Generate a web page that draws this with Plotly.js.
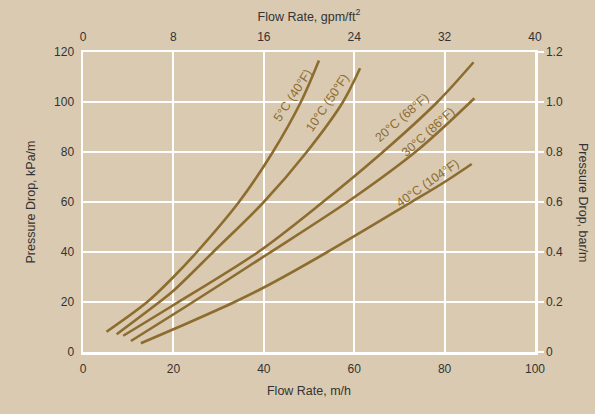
<!DOCTYPE html>
<html>
<head>
<meta charset="utf-8">
<script src="https://cdn.plot.ly/plotly-3.0.1.min.js"></script>
<style>html,body{margin:0;padding:0;background:#dacab1;}#chart{width:595px;height:414px;}</style>
</head>
<body>
<div id="chart"></div>
<script>
// Flow rate (m/h) and pressure drop (kPa/m)
const x5C  = [5.2, 14.2, 20, 25.2, 34.5, 42, 48.2, 52.2];
const y5C  = [8.1, 20, 30, 40, 60, 80, 100, 116.6];
const x10C = [7.45, 16.9, 20, 28.8, 40, 49.5, 57.5, 61.3];
const y10C = [7.1, 20, 24.5, 40, 60, 80, 100, 113.5];
const x20C = [8.9, 19.6, 38.6, 51.9, 65.9, 78.4, 86.4];
const y20C = [6.5, 18.3, 39.8, 58.3, 79.3, 100, 115.9];
const x30C = [10.6, 22.6, 40.7, 59.7, 74.2, 86.6];
const y30C = [4.4, 18, 39, 61.5, 81, 101.5];
const x40C = [12.8, 23.7, 33.3, 40, 53.6, 72.5, 80, 86];
const y40C = [3.5, 12.0, 19.8, 25.8, 39.5, 59.8, 68, 75.2];

const seriesNames = ["5°C (40°F)", "10°C (50°F)", "20°C (68°F)", "30°C (86°F)", "40°C (104°F)"];

// Axis ticks
const bottomTicks = [0, 20, 40, 60, 80, 100];
const topTicks = [0, 8, 16, 24, 32, 40];
const leftTicks = [0, 20, 40, 60, 80, 100, 120];
const rightTicks = [0, 0.2, 0.4, 0.6, 0.8, 1.0, 1.2];
const rightTickText = ["0", "0.2", "0.4", "0.6", "0.8", "1.0", "1.2"];

const LINE = '#8d6c2f';
const BG = '#dacab1';
const TXT = '#333333';
const FONT = '"Liberation Sans", Arial, Helvetica, sans-serif';

const xs = [x5C, x10C, x20C, x30C, x40C];
const ys = [y5C, y10C, y20C, y30C, y40C];

const traces = xs.map((xv, i) => ({
  x: xv, y: ys[i], type: 'scatter', mode: 'lines', name: seriesNames[i],
  line: {color: LINE, width: 2.6, shape: 'spline', smoothing: 0.9},
  hoverinfo: 'skip', showlegend: false
}));

// helper trace so the secondary axes are drawn
traces.push({
  x: [topTicks[0], topTicks[topTicks.length - 1]],
  y: [rightTicks[0], rightTicks[rightTicks.length - 1]],
  xaxis: 'x2', yaxis: 'y2', type: 'scatter', mode: 'markers',
  marker: {opacity: 0}, hoverinfo: 'skip', showlegend: false
});

// label placement (position and angle) next to each curve
const labelPos = [
  {x: 46.3, y: 102.6, a: -57},
  {x: 54.0, y: 99.8, a: -56},
  {x: 70.5, y: 93.6, a: -41},
  {x: 76.4, y: 88.0, a: -42},
  {x: 76.3, y: 67.6, a: -35}
];

const annotations = seriesNames.map((t, i) => ({
  text: t, x: labelPos[i].x, y: labelPos[i].y, xref: 'x', yref: 'y',
  textangle: labelPos[i].a, showarrow: false,
  font: {family: FONT, size: 12.5, color: LINE}
}));

annotations.push({
  text: 'Pressure Drop, bar/m', xref: 'paper', yref: 'paper',
  x: 1, xshift: 57, y: 0.5, textangle: 90, showarrow: false,
  font: {family: FONT, size: 12.5, color: TXT}
});

const layout = {
  width: 595, height: 414,
  margin: {l: 83, r: 60, t: 52, b: 62, pad: 0},
  paper_bgcolor: BG, plot_bgcolor: BG,
  font: {family: FONT, size: 12, color: TXT},
  xaxis: {
    range: [0, 100], tickvals: bottomTicks, ticktext: bottomTicks.map(String),
    showgrid: true, gridcolor: '#ffffff', gridwidth: 2,
    showline: true, linecolor: '#ffffff', linewidth: 2.5, mirror: false,
    zeroline: false, ticks: '', ticklabelstandoff: 4,
    tickfont: {family: FONT, size: 12, color: TXT},
    title: {text: 'Flow Rate, m/h', standoff: 12, font: {family: FONT, size: 12.5, color: TXT}}
  },
  xaxis2: {
    range: [0, 40], overlaying: 'x', side: 'top', anchor: 'y',
    tickvals: topTicks, ticktext: topTicks.map(String),
    showgrid: false, showline: true, linecolor: '#ffffff', linewidth: 2.5,
    zeroline: false, ticks: '', ticklabelstandoff: 4,
    tickfont: {family: FONT, size: 12, color: TXT},
    title: {text: 'Flow Rate, gpm/ft<sup>2</sup>', standoff: 6, font: {family: FONT, size: 12.5, color: TXT}}
  },
  yaxis: {
    range: [0, 120], tickvals: leftTicks, ticktext: leftTicks.map(String),
    showgrid: true, gridcolor: '#ffffff', gridwidth: 2,
    showline: true, linecolor: '#ffffff', linewidth: 2.5,
    zeroline: false, ticks: '', ticklabelstandoff: 4,
    tickfont: {family: FONT, size: 12, color: TXT},
    title: {text: 'Pressure Drop, kPa/m', standoff: 16, font: {family: FONT, size: 12.5, color: TXT}}
  },
  yaxis2: {
    range: [0, 1.2], overlaying: 'y', side: 'right', anchor: 'x',
    tickvals: rightTicks, ticktext: rightTickText,
    showgrid: false, showline: true, linecolor: '#ffffff', linewidth: 2.5,
    zeroline: false, ticks: 'outside', ticklen: 6, tickwidth: 2, tickcolor: '#ffffff',
    tickfont: {family: FONT, size: 12, color: TXT}
  },
  annotations: annotations,
  showlegend: false
};

Plotly.newPlot('chart', traces, layout, {displayModeBar: false, staticPlot: true});
</script>
</body>
</html>
